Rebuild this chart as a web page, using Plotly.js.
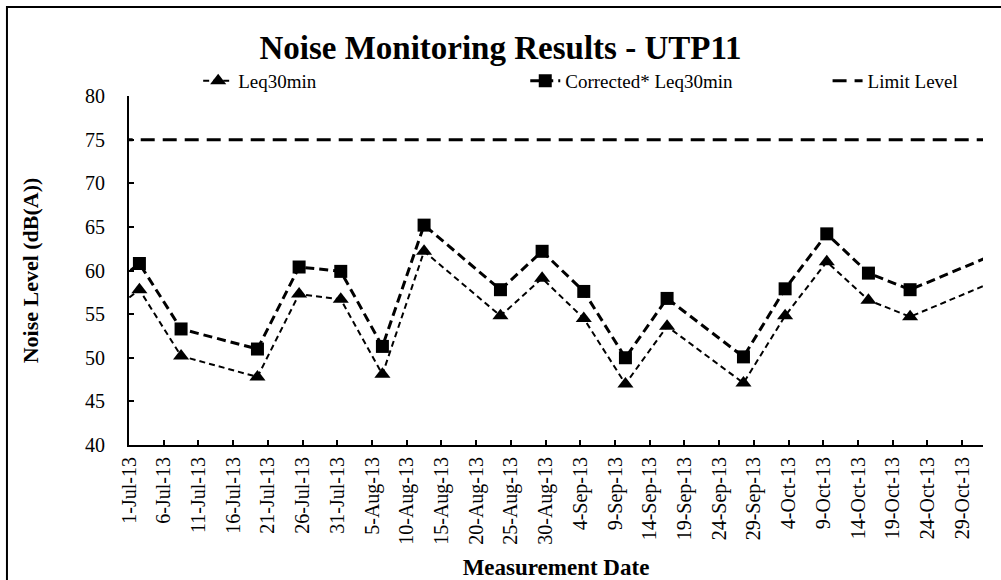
<!DOCTYPE html>
<html>
<head>
<meta charset="utf-8">
<script src="https://cdn.plot.ly/plotly-3.0.1.min.js"></script>
<style>html,body{margin:0;padding:0;background:#fff;}#chart{width:1001px;height:580px;}</style>
</head>
<body>
<div id="chart"></div>
<script>
// Measurement dates (points drawn at mid-day, as in the original date axis)
const dates = ['2013-06-26','2013-07-02','2013-07-08','2013-07-19','2013-07-25','2013-07-31',
  '2013-08-06','2013-08-12','2013-08-23','2013-08-29','2013-09-04','2013-09-10','2013-09-16',
  '2013-09-27','2013-10-03','2013-10-09','2013-10-15','2013-10-21','2013-11-02'];
const leq30 = [54.1,57.8,50.2,47.8,57.3,56.7,48.1,62.2,54.8,59.1,54.5,47.0,53.6,47.1,54.8,61.0,56.6,54.7,58.7];
const corrected = [57.0,60.8,53.3,51.0,60.4,59.9,51.3,65.2,57.8,62.2,57.6,50.0,56.8,50.1,57.9,64.2,59.7,57.8,61.8];
const limitDates = ['2013-06-01','2013-12-01'];
const limitLevel = [75,75];
const tickDates = ['2013-07-01','2013-07-06','2013-07-11','2013-07-16','2013-07-21','2013-07-26','2013-07-31',
  '2013-08-05','2013-08-10','2013-08-15','2013-08-20','2013-08-25','2013-08-30',
  '2013-09-04','2013-09-09','2013-09-14','2013-09-19','2013-09-24','2013-09-29',
  '2013-10-04','2013-10-09','2013-10-14','2013-10-19','2013-10-24','2013-10-29'];
const tickLabels = ['1-Jul-13','6-Jul-13','11-Jul-13','16-Jul-13','21-Jul-13','26-Jul-13','31-Jul-13',
  '5-Aug-13','10-Aug-13','15-Aug-13','20-Aug-13','25-Aug-13','30-Aug-13',
  '4-Sep-13','9-Sep-13','14-Sep-13','19-Sep-13','24-Sep-13','29-Sep-13',
  '4-Oct-13','9-Oct-13','14-Oct-13','19-Oct-13','24-Oct-13','29-Oct-13'];

const FONT = 'Liberation Serif, Times New Roman, serif';
const mid = d => d + ' 12:00';

const traces = [
  {x: dates.map(mid), y: leq30, name: 'Leq30min', mode: 'lines+markers', legend: 'legend',
   line: {color: '#000', width: 2, dash: '6px,4px'},
   marker: {symbol: 'triangle-up', size: 14, color: '#000'}},
  {x: dates.map(mid), y: corrected, name: 'Corrected* Leq30min', mode: 'lines+markers', legend: 'legend2',
   line: {color: '#000', width: 3, dash: '9px,5px'},
   marker: {symbol: 'square', size: 13, color: '#000'}},
  {x: limitDates, y: limitLevel, name: 'Limit Level', mode: 'lines', legend: 'legend3',
   line: {color: '#000', width: 3, dash: '14px,8px'}}
];

const legBase = {orientation: 'h', yanchor: 'middle', xanchor: 'left', y: 1.043,
  font: {family: FONT, size: 19, color: '#000'}, bgcolor: 'rgba(0,0,0,0)', borderwidth: 0};

const layout = {
  width: 1001, height: 580,
  margin: {l: 129, r: 18, t: 96, b: 135},
  paper_bgcolor: '#fff', plot_bgcolor: '#fff',
  font: {family: FONT, color: '#000'},
  title: {text: '<b>Noise Monitoring Results - UTP11</b>', font: {family: FONT, size: 33, color: '#000'},
          x: 0.5, xanchor: 'center', y: 0.918, yanchor: 'middle'},
  showlegend: true,
  legend: Object.assign({}, legBase, {x: 0.081}),
  legend2: Object.assign({}, legBase, {x: 0.464}),
  legend3: Object.assign({}, legBase, {x: 0.818}),
  xaxis: {
    type: 'date', range: ['2013-07-01', '2013-11-01'],
    tickmode: 'array', tickvals: tickDates, ticktext: tickLabels,
    tickangle: -90, ticks: 'inside', ticklen: 5, tickwidth: 2, tickcolor: '#000',
    ticklabelshift: 3.5, ticklabelstandoff: 2,
    tickfont: {family: FONT, size: 20, color: '#000'},
    showline: true, linecolor: '#000', linewidth: 2, showgrid: false, zeroline: false,
    title: {text: '<b>Measurement Date</b>', font: {family: FONT, size: 23, color: '#000'}, standoff: 15},
    automargin: false
  },
  yaxis: {
    range: [40, 80], dtick: 5, tick0: 40,
    ticks: 'inside', ticklen: 5, tickwidth: 2, tickcolor: '#000',
    ticklabelstandoff: 18,
    tickfont: {family: FONT, size: 20, color: '#000'},
    showline: true, linecolor: '#000', linewidth: 2, showgrid: false, zeroline: false,
    title: {text: '<b>Noise Level (dB(A))</b>', font: {family: FONT, size: 22, color: '#000'}, standoff: 40},
    automargin: false
  },
  shapes: [
    {type: 'rect', xref: 'paper', yref: 'paper', x0: -0.1429, x1: 1.1, y0: -0.45, y1: 1.255,
     line: {color: '#000', width: 2}, fillcolor: 'rgba(0,0,0,0)', layer: 'below'}
  ]
};

Plotly.newPlot('chart', traces, layout, {staticPlot: true});
</script>
</body>
</html>
